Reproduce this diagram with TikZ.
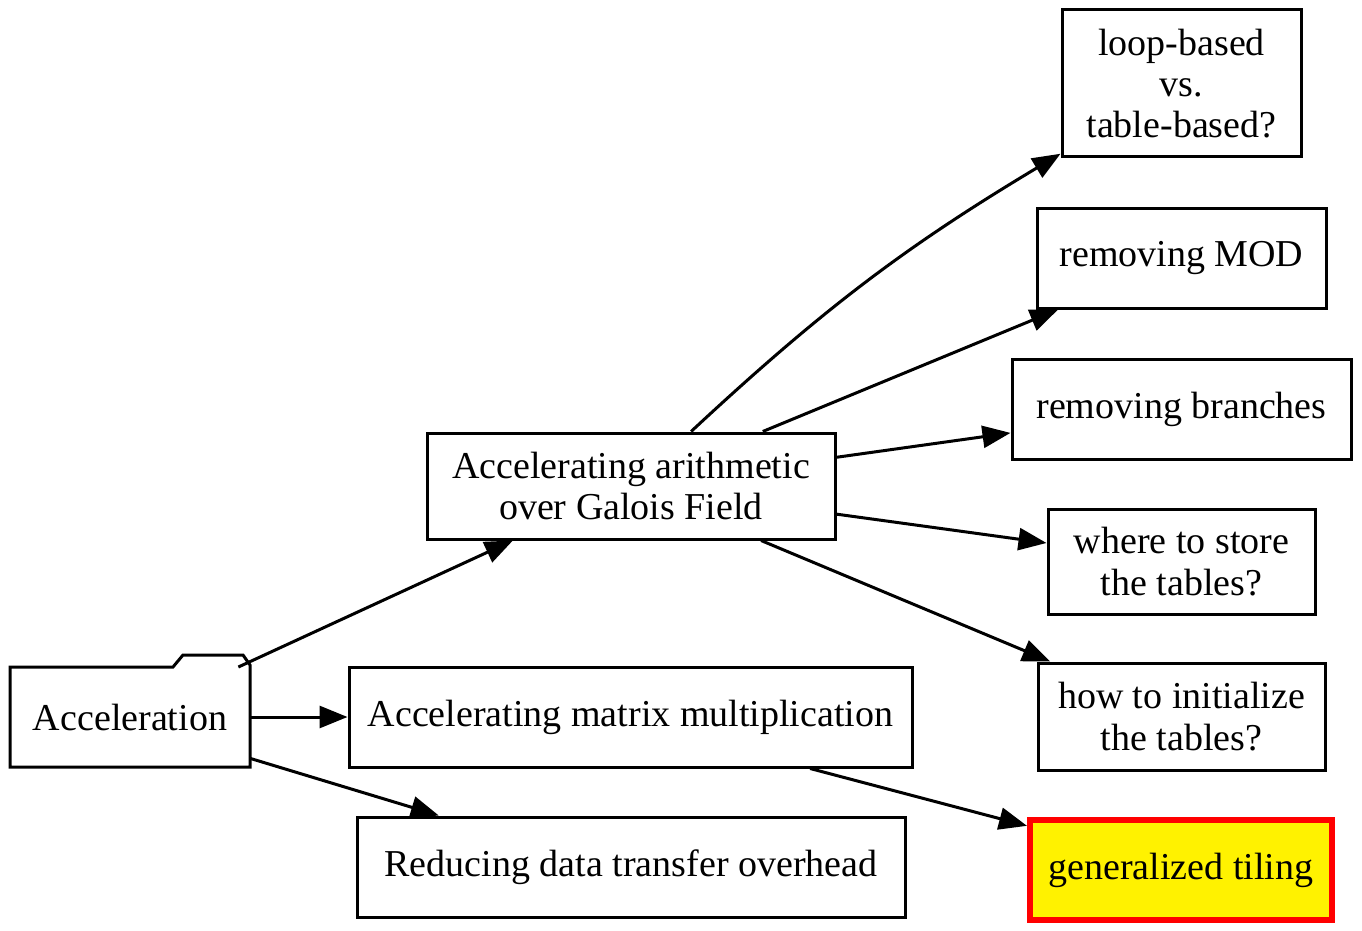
\documentclass[tikz,border=0pt]{standalone}
\usepackage{fontspec}
\setmainfont{Liberation Serif}
\usetikzlibrary{arrows.meta}
\begin{document}
\begin{tikzpicture}[x=0.5pt,y=-0.5pt]
    \tikzset{box/.style={draw,line width=1.5pt,inner sep=0pt,align=center,
        font=\fontsize{19}{20.7}\selectfont},hl/.style={box,draw=red,
        fill=yellow,line width=3pt},link/.style={-{Triangle[length=14pt,
        width=11pt]},line width=1.5pt}}
    \useasboundingbox (0,0) rectangle (1362,931);

    \node[box,draw=none,outer sep=0pt,minimum width=120pt,minimum
    height=50pt] (acc) at (130,717) {Acceleration};
    \draw[line width=1.5pt] (acc.north west) -- ++(163,0) -- ++(10,-12)
    -- ++(60,0) -- ++(7,10) -- (acc.south east) -- (acc.south west) -- cycle;
    \node[box,minimum width=204pt,minimum height=53pt] (arith) at (631,486)
    {Accelerating arithmetic\\over Galois Field};
    \node[box,minimum width=281.5pt,minimum height=50pt] (matrix) at
    (630.5,717) {Accelerating matrix multiplication};
    \node[box,minimum width=274pt,minimum height=50pt] (reduce) at (631,867)
    {Reducing data transfer overhead};

    \node[box,minimum width=119.5pt,minimum height=73.5pt] (loop) at
    (1181.5,83.5) {loop-based\\vs.\\table-based?};
    \node[box,minimum width=144.5pt,minimum height=49.5pt] (mod) at
    (1181.5,258.5) {removing MOD};
    \node[box,minimum width=169.5pt,minimum height=50pt] (branch) at
    (1181.5,409) {removing branches};
    \node[box,minimum width=133.5pt,minimum height=52.5pt] (store) at
    (1181.5,561.5) {where to store\\the tables?};
    \node[box,minimum width=143.5pt,minimum height=53.5pt] (init) at
    (1181.5,716.5) {how to initialize\\the tables?};
    \node[hl,minimum width=151pt,minimum height=50pt] (tiling) at
    (1181,870) {generalized tiling};

    \draw[link] (acc) -- (arith);
    \draw[link] (acc) -- (matrix);
    \draw[link] (acc.-19.3) -- (reduce.165.5);
    \draw[link] (arith) to[bend left=6] (loop);
    \draw[link] (arith) -- (mod);
    \draw[link] (arith) -- (branch);
    \draw[link] (arith) -- (store);
    \draw[link] (arith) -- (init);
    \draw[link] (matrix.-16) -- (tiling.164.1);

  \end{tikzpicture}
\end{document}
